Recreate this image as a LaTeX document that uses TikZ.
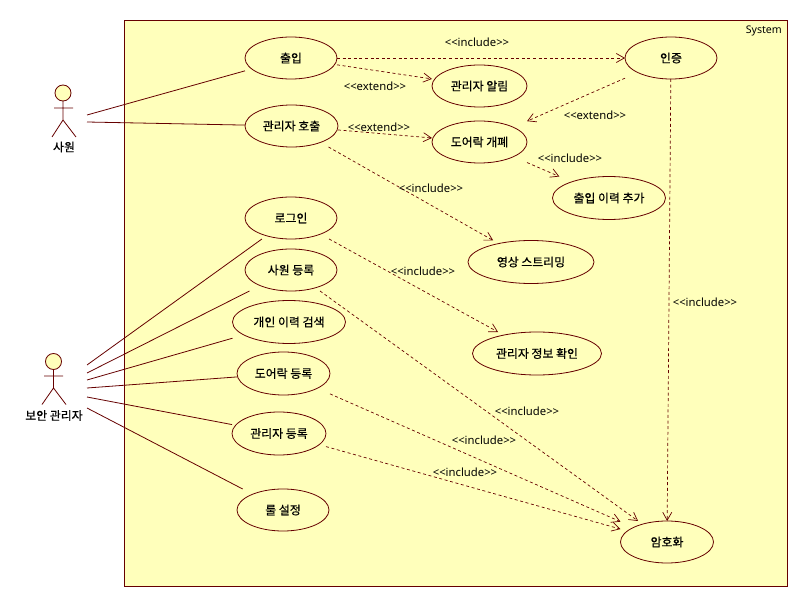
\documentclass[tikz,border=0pt]{standalone}
\usepackage{fontspec}
\usetikzlibrary{arrows.meta}
\newfontfamily\krfont[FakeBold=0.5]{Noto Sans CJK KR}
\newfontfamily\lblfont{Noto Sans}
\definecolor{umlline}{HTML}{660000}
\definecolor{umlfill}{HTML}{FFFFBB}
\tikzset{
  ucbox/.style={rectangle,inner sep=0pt,outer sep=0pt,text=black,font=\krfont\fontsize{11.9}{13}\selectfont},
  ucshape/.style={draw=umlline,fill=umlfill,line width=0.8pt},
  assoc/.style={draw=umlline,line width=0.8pt},
  dep/.style={draw=umlline,line width=0.7pt,dash pattern=on 3pt off 2.6pt,-{Straight Barb[length=8pt,width=9pt,line width=0.7pt]}},
  stereo/.style={text=black,inner sep=0pt,font=\lblfont\fontsize{11.3}{12}\selectfont},
  sysname/.style={text=black,inner sep=0pt,font=\lblfont\fontsize{10.6}{12}\selectfont},
  actorname/.style={text=black,inner sep=0pt,font=\krfont\fontsize{11.9}{13}\selectfont},
  stick/.style={draw=umlline,line width=0.8pt},
  stickhead/.style={draw=umlline,fill=umlfill,line width=0.8pt}
}
\newcommand{\ucase}[6]{%
  \draw[ucshape] (#2,#3) ellipse ({#4pt} and {#5pt});
  \node[ucbox,minimum width=#4pt*2,minimum height=#5pt*2] (#1) at (#2,#3) {#6};
}
\begin{document}
\begin{tikzpicture}[x=1pt,y=-1pt]
\useasboundingbox (0,0) rectangle (807,607);
\fill[white] (0,0) rectangle (807,607);
\draw[draw=umlline,fill=umlfill,line width=0.9pt] (124.5,20.5) rectangle (787,586);
\node[sysname,anchor=east] (sys) at (782,31) {System};

\ucase{enter}{291}{58}{46}{21}{출입}
\ucase{call}{291.5}{126}{46.5}{21}{관리자 호출}
\ucase{login}{291}{218}{46}{21}{로그인}
\ucase{staffreg}{291}{270}{46}{21}{사원 등록}
\ucase{search}{289}{322}{56.5}{21.5}{개인 이력 검색}
\ucase{doorreg}{283.5}{373.5}{46.5}{21.5}{도어락 등록}
\ucase{adminreg}{279}{433.5}{47}{21.5}{관리자 등록}
\ucase{rule}{283}{510}{46}{21}{룰 설정}
\ucase{auth}{671}{58}{46}{21}{인증}
\ucase{notify}{479.5}{86}{47.5}{21}{관리자 알림}
\ucase{door}{479.5}{142}{47.5}{21}{도어락 개폐}
\ucase{log}{609}{198}{56.5}{21.5}{출입 이력 추가}
\ucase{stream}{531}{262}{63}{21.5}{영상 스트리밍}
\ucase{info}{537}{353.5}{64.5}{21.5}{관리자 정보 확인}
\ucase{crypt}{667}{542}{46.5}{21}{암호화}

% actor: staff
\draw[stickhead] (63,93) circle (8pt);
\draw[stick] (63,101) -- (63,120) (54,108) -- (73,108) (52,137) -- (63,120) -- (76,137);
\node[actorname] (staff) at (64,147) {사원};
% actor: security admin
\draw[stickhead] (53.5,361.5) circle (8pt);
\draw[stick] (53.5,369.5) -- (53.5,388) (44,376) -- (63,376) (42,404.5) -- (53.5,388) -- (66,404.5);
\node[actorname] (secadmin) at (54,415.5) {보안 관리자};

\coordinate (s1) at (87,115);
\coordinate (s2) at (87,122);
\coordinate (a1) at (87,365);
\coordinate (a2) at (87,373);
\coordinate (a3) at (87,380);
\coordinate (a4) at (87,388);
\coordinate (a5) at (87,397);
\coordinate (a6) at (87,408);

\draw[assoc] (s1) -- (enter);
\draw[assoc] (s2) -- (call);
\draw[assoc] (a1) -- (login);
\draw[assoc] (a2) -- (staffreg);
\draw[assoc] (a3) -- (search);
\draw[assoc] (a4) -- (doorreg);
\draw[assoc] (a5) -- (adminreg);
\draw[assoc] (a6) -- (rule);

\draw[dep] (enter) -- (auth);
\draw[dep] (enter) -- (notify);
\draw[dep] (call) -- (door);
\draw[dep] (auth) -- (door);
\draw[dep] (door) -- (log);
\draw[dep] (call) -- (stream);
\draw[dep] (login) -- (info);
\draw[dep] (staffreg) -- (crypt);
\draw[dep] (doorreg) -- (crypt);
\draw[dep] (adminreg) -- (crypt);
\draw[dep] (auth) -- (crypt);

\node[stereo] (l1) at (477,42.5) {<<include>>};
\node[stereo] (l2) at (375,86) {<<extend>>};
\node[stereo] (l3) at (379,127.5) {<<extend>>};
\node[stereo] (l4) at (595,115.5) {<<extend>>};
\node[stereo] (l5) at (570,158.5) {<<include>>};
\node[stereo] (l6) at (431,188.5) {<<include>>};
\node[stereo] (l7) at (423,271.5) {<<include>>};
\node[stereo] (l8) at (527,411.5) {<<include>>};
\node[stereo] (l9) at (484,440.5) {<<include>>};
\node[stereo] (l10) at (465,472.5) {<<include>>};
\node[stereo] (l11) at (705,302.5) {<<include>>};
\end{tikzpicture}
\end{document}
